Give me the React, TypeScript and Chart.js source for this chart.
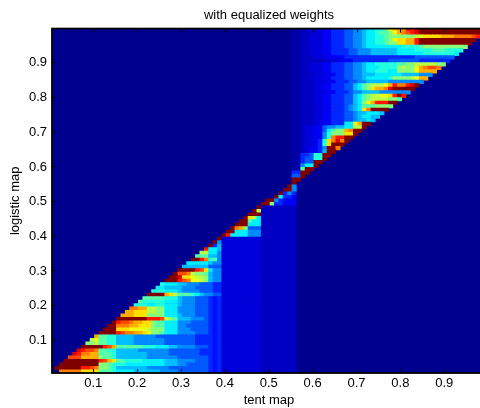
import { useEffect, useRef } from "react";
import { Chart, registerables } from "chart.js";

Chart.register(...registerables);

const titleText = "with equalized weights";
const xLabel = "tent map";
const yLabel = "logistic map";
const tickValues = [0.1, 0.2, 0.3, 0.4, 0.5, 0.6, 0.7, 0.8, 0.9];

// colour levels, one character per cell: 0..9, A..K stand for 0/20 .. 20/20
const levelChars = "0123456789ABCDEFGHIJK";
// in-between dark blue levels
const fineLevels: Record<string, number> = { a: 0.025, b: 0.075, c: 0.125 };

// first column index of each row (rows run from y = 0.01 to y = 0.99)
const rowStarts = [
  2, 1, 2, 3, 4, 5, 6, 7, 8, 9, 10, 11, 12, 13, 14, 15, 16, 17, 18, 19,
  20, 21, 22, 23, 24, 25, 26, 27, 28, 29, 30, 31, 32, 33, 34, 35, 36, 37, 38, 39,
  40, 41, 42, 43, 44, 45, 46, 47, 48, 49, 51, 52, 53, 54, 55, 55, 55, 55, 55, 55,
  55, 55, 55, 55, 55, 55, 55, 55, 55, 55, 55, 55, 55, 55, 55, 55, 55, 55, 55, 55,
  55, 55, 55, 55, 55, 55, 55, 55, 55, 55, 55, 55, 55, 55, 55, 55, 55, 55, 55,
];

const rowCodes = [
  "FFFFF DDDD 9998 7777 666 6665 555 4444444 3 c3 bbbbbbbbb 11111111",
  "KKKKKK HH GF AA98 6666 666 5555 544 4444444 3 c3 bbbbbbbbb 11111111",
  "KKKKKKKKK AA98 8877 777 7777 666 5544444 3 c3 bbbbbbbbb 11111111",
  "KKKKKKKK HGED 9988 887 7777 666 5555444 3 c3 bbbbbbbbb 11111111",
  "GGG EEEE A998 6666 666 5555 555 4444444 3 c3 bbbbbbbbb 11111111",
  "IH FFEE 9998 6666 666 5555 544 4444433 3 c3 bbbbbbbbb 11111111",
  "I HGGF 9988 6666 655 5555 544 4444433 3 c3 bbbbbbbbb 11111111",
  "KKKKK HGE 9999 998 8877 766 5555444 3 c3 bbbbbbbbb 11111111",
  "AAB 9988 6666 555 5555 444 4444333 3 c3 bbbbbbbbb 11111111",
  "BC 9988 6666 555 5555 444 4444333 3 c3 bbbbbbbbb 11111111",
  "E 9988 6666 555 5544 444 4444333 3 c3 bbbbbbbbb 11111111",
  "KKKK HGFF EED CAA9 777 5555444 3 c3 bbbbbbbbb 11111111",
  "KKK DDDC CCC BAAA 777 5554444 3 c3 bbbbbbbbb 11111111",
  "KK FFFE EDD DA99 777 5544444 3 c3 bbbbbbbbb 11111111",
  "K HGGF EED DA99 777 5554444 3 c3 bbbbbbbbb 11111111",
  "KKKK KKK HHHG BA9 6665554 3 c3 bbbbbbbbb 11111111",
  "EEE DDD AAAA 777 6555444 3 c3 bbbbbbbbb 11111111",
  "EE DDD BBAA 777 5555444 3 c3 bbbbbbbbb 11111111",
  "F FEE BBAA 777 5555444 3 c3 bbbbbbbbb 11111111",
  "888 7788 777 6555444 3 c3 bbbbbbbbb 11111111",
  "98 8888 777 6555444 3 c3 bbbbbbbbb 11111111",
  "9 9999 888 6555444 3 c3 bbbbbbbbb 11111111",
  "KKKK EDB 9998765 5 44 bbbbbbbbb 11111111",
  "888 777 6555544 4 33 bbbbbbbbb 11111111",
  "77 666 6555444 4 33 bbbbbbbbb 11111111",
  "8 777 6655544 4 33 bbbbbbbbb 11111111",
  "KKK HGF CC BA 6 55 bbbbbbbbb 11111111",
  "KK IDD CB BA 6 55 bbbbbbbbb 11111111",
  "K GGF BA A9 6 55 bbbbbbbbb 11111111",
  "KKKK HGD 7 55 bbbbbbbbb 11111111",
  "666666 4 44 bbbbbbbbb 11111111",
  "77777 6 55 bbbbbbbbb 11111111",
  "KK H F 8 9 5 bbbbbbbbb 11111111",
  "999 6 6 5 bbbbbbbbb 11111111",
  "BB 7 7 5 bbbbbbbbb 11111111",
  "H 7 7 6 bbbbbbbbb 11111111",
  "K 3 6 bbbbbbbbb 11111111",
  "K 5 bbbbbbbbb 11111111",
  "K bbbbbbbbb 11111111",
  "K H 7777 555 11111111",
  "KK 777 555 11111111",
  "K FE A 444 11111111",
  "KKK 777 11111111",
  "KK 9 77 11111111",
  "K D B 7 11111111",
  "KKK 11111111",
  "K B 11111111",
  "K 11111111",
  "KK A 33222",
  "KK 5 3222",
  "K 7 332",
  "K 3 5 3",
  "KK 5",
  "K 5",
  "K",
  "KK",
  "44 K",
  "33 KK",
  "aa 9 KK",
  "aa 5 77 K",
  "aa 344 KK",
  "aa 344 88 K",
  "aa 334 88 KK",
  "aa 1b2 23 6 KK",
  "aa 1b2 23 5 KK F",
  "aa 1bb 23 8 D KKK",
  "aa 1bb 23 8 D F I F K",
  "aa 1bb 22 5 8 F HH KK",
  "aa 1bb 22 5 8 AAA DD K",
  "aa 1bb 22 4 7 9AA E F KK",
  "aa 1bb 22 4 5 566 77 BB K",
  "aa 111 bb2 2333 77 C E KK",
  "aa 111 bb2 2333 44 56 676",
  "aa 111 bb2 2333 44 56 77 66",
  "aa 111 bb2 2333 44 56 67 776",
  "aa 111 bb2 2333 45 67 D F KKKK",
  "aa 111 bb2 2333 45 67 99 9AAAA",
  "aa 111 bb2 2333 44 67 A C E HHH KK",
  "aa 111 bb2 2333 44 67 9A BBBB AA9",
  "aa 111 bb2 2333 44 67 9A BBCC D H K H",
  "aa 111 bbb 2233 34 55 66 665555555",
  "aa 111 bb2 2333 44 67 9A DEEF I KKKKK",
  "aa 111 bb2 2333 44 67 9A BBBC E H F F H I K",
  "aa 111 bbb 2233 344556 666655555555",
  "aa 11b bb2 2333 445567 7777 8AA AA BC EE",
  "aa 111 bbb 2233 445566 6777777 6666555",
  "aa 11b bb2 2333 445567 788877 AAAAC EEEE",
  "aa 11b bb2 2333 445567 778888 ABAAC EFGGF",
  "aa 11b bb2 2333 445567 788888 99AAB BBBBAA",
  "aa 111 111 bbb2 223333 333344 44444 3333333",
  "aa 111 bbb 2222 333333 333333 33334 44444444",
  "aa 11b bb2 2333 344555 666666 77777 788888887",
  "aa 11b bb2 2333 344555 666666 77778 8889998888",
  "aa 11b bb2 2333 445567 777777 78888 9AAAAAAAAAA",
  "aa 11b bb2 2333 445567 788 9AADDEEH KKKKKKKKKKKK",
  "aa 11b bb2 2333 445567 788 9ACDDEEH KKKKKKKKKKKKK",
  "aa 11b bb2 2333 445567 788 9AAAAAAB CDDDD EEEFFFFG H",
  "aa 11b bb2 2333 445567 789 9ACEFGHI KKKKKKKKKKKKKKK",
  "aa 11b bb2 2333 445567 788 9CDEEHHI KKKKKKKKKKKKKKK",
];

const clamp = (v: number) => Math.max(0, Math.min(1, v));
function jet(v: number): string {
  const t = 0.0156 + 0.9844 * v;
  const r = clamp(1.5 - Math.abs(4 * t - 3));
  const g = clamp(1.5 - Math.abs(4 * t - 2));
  const b = clamp(1.5 - Math.abs(4 * t - 1));
  return `rgb(${Math.round(r * 255)},${Math.round(g * 255)},${Math.round(b * 255)})`;
}

const levelOf = (c: string) => (c in fineLevels ? fineLevels[c] : levelChars.indexOf(c) / 20);

const FONT = "'Liberation Sans', Helvetica, Arial, sans-serif";

const framePlugin = {
  id: "frame",
  beforeDatasetsDraw(chart: any) {
    const { ctx, chartArea: a } = chart;
    ctx.save();
    ctx.fillStyle = jet(0);
    ctx.fillRect(a.left, a.top, a.right - a.left, a.bottom - a.top);
    ctx.restore();
  },
  afterDatasetsDraw(chart: any) {
    const { ctx, chartArea: a, scales } = chart;
    ctx.save();
    ctx.strokeStyle = "#000";
    ctx.lineWidth = 1.8;
    ctx.strokeRect(a.left, a.top, a.right - a.left, a.bottom - a.top);
    ctx.lineWidth = 1;
    ctx.beginPath();
    for (const v of tickValues) {
      const x = Math.round(scales.x.getPixelForValue(v)) + 0.5;
      ctx.moveTo(x, a.bottom);
      ctx.lineTo(x, a.bottom - 4);
      ctx.moveTo(x, a.top);
      ctx.lineTo(x, a.top + 4);
      const y = Math.round(scales.y.getPixelForValue(v)) + 0.5;
      ctx.moveTo(a.left, y);
      ctx.lineTo(a.left + 4, y);
      ctx.moveTo(a.right, y);
      ctx.lineTo(a.right - 4, y);
    }
    ctx.stroke();
    ctx.restore();
  },
};

export default function App() {
  const ref = useRef<HTMLCanvasElement>(null);
  useEffect(() => {
    const datasets = rowCodes.map((codes, i) => {
      const levels = codes.replace(/\s/g, "").split("").map(levelOf);
      const yc = -0.0026 + 0.01006 * (i + 1);
      return {
        data: levels.map((_, j) => ({
          x: 0.0078 + 0.01 * (rowStarts[i] + j),
          y: [yc - 0.00503, yc + 0.00503],
        })),
        backgroundColor: levels.map(jet),
        borderWidth: 0,
        barPercentage: 1,
        categoryPercentage: 1,
        grouped: false,
      };
    });
    const tickFix = (s: any) => {
      s.ticks = tickValues.map((value) => ({ value }));
    };
    const chart = new Chart(ref.current!, {
      type: "bar",
      data: { datasets } as any,
      plugins: [framePlugin],
      options: {
        animation: false,
        responsive: false,
        events: [],
        plugins: {
          legend: { display: false },
          tooltip: { enabled: false },
          title: {
            display: true,
            text: titleText,
            fullSize: false,
            color: "#000",
            font: { family: FONT, size: 13, weight: "normal" },
            padding: { top: 8, bottom: 5 },
          },
        },
        scales: {
          x: {
            type: "linear",
            min: 0.0059,
            max: 0.9951,
            offset: false,
            grid: { display: false, drawTicks: false },
            border: { display: false },
            afterBuildTicks: tickFix,
            afterFit: (s: any) => {
              s.height = 35;
            },
            ticks: {
              color: "#000",
              padding: 3,
              maxRotation: 0,
              autoSkip: false,
              font: { family: FONT, size: 13 },
              callback: (v: any) => Number(v).toFixed(1),
            },
            title: {
              display: true,
              text: xLabel,
              color: "#000",
              font: { family: FONT, size: 13 },
              padding: { top: 0, bottom: 0 },
            },
          },
          y: {
            type: "linear",
            min: 0.0032,
            max: 0.9959,
            grid: { display: false, drawTicks: false },
            border: { display: false },
            afterBuildTicks: tickFix,
            afterFit: (s: any) => {
              s.width = 52;
            },
            ticks: {
              color: "#000",
              padding: 5,
              labelOffset: 1,
              autoSkip: false,
              font: { family: FONT, size: 13 },
              callback: (v: any) => Number(v).toFixed(1),
            },
            title: {
              display: true,
              text: yLabel,
              color: "#000",
              font: { family: FONT, size: 13 },
              padding: { top: 8, bottom: 0 },
            },
          },
        },
      } as any,
    });
    return () => chart.destroy();
  }, []);
  return (
    <div style={{ position: "absolute", left: 0, top: 0, width: 480, height: 408, overflow: "hidden" }}>
      <canvas ref={ref} width={486} height={408} style={{ display: "block", width: 486, height: 408 }} />
    </div>
  );
}
